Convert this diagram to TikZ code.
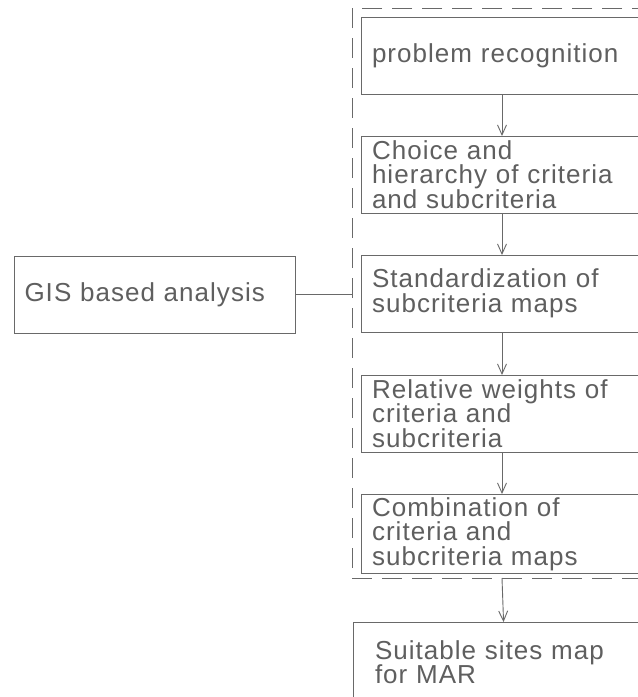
\documentclass[tikz,border=0pt]{standalone}
\usepackage{fontspec}
\setmainfont{Liberation Sans}
\usepackage{tikz}
\usetikzlibrary{arrows.meta}

\definecolor{cadline}{RGB}{105,105,105}
\definecolor{cadtext}{RGB}{95,95,95}

\begin{document}
\begin{tikzpicture}[x=1pt, y=-1pt,
        stagebox/.style={draw=cadline, line width=0.9pt, rectangle, anchor=north west,
            minimum width=282pt, minimum height=77pt, text width=260pt, inner xsep=11pt,
            outer sep=0pt, align=left, text=cadtext,
            font=\fontsize{26}{24.5}\selectfont\addfontfeature{LetterSpace=4}},
        groupbox/.style={draw=cadline, line width=0.9pt, dash pattern=on 20pt off 10pt,
            rectangle, anchor=north west, minimum width=300pt, minimum height=570pt,
            outer sep=0pt},
        flow/.style={draw=cadline, line width=0.9pt, -{Straight Barb[length=10pt, width=9pt]}}]
        \useasboundingbox (0,0) rectangle (638,697);
        \clip (0,0) rectangle (638,697);
        \fill[white] (0,0) rectangle (638,697);

        \node[groupbox] (group) at (352,8) {};

        \node[stagebox] (recog) at (361,17) {problem recognition};
        \node[stagebox] (choice) at (361,136) {Choice and\\hierarchy of criteria\\and subcriteria};
        \node[stagebox] (stand) at (361,255) {Standardization of\\subcriteria maps};
        \node[stagebox] (weights) at (361,375) {Relative weights of\\criteria and\\subcriteria};
        \node[stagebox] (combine) at (361,494) {Combination of\\criteria and\\subcriteria maps};
        \node[stagebox, minimum width=298pt, minimum height=80pt, inner xsep=22pt] (sites) at (353,622) {Suitable sites map\\for MAR};

        \node[stagebox, minimum width=281pt, inner xsep=8pt] (gis) at (14,256) {GIS based analysis};

        \draw[flow] (recog) -- (choice);
        \draw[flow] (choice) -- (stand);
        \draw[flow] (stand) -- (weights);
        \draw[flow] (weights) -- (combine);
        \draw[flow] (group.south) -- (sites);
        \draw[draw=cadline, line width=0.9pt] (gis.east) -- (gis.east -| group.west);
    \end{tikzpicture}
\end{document}
